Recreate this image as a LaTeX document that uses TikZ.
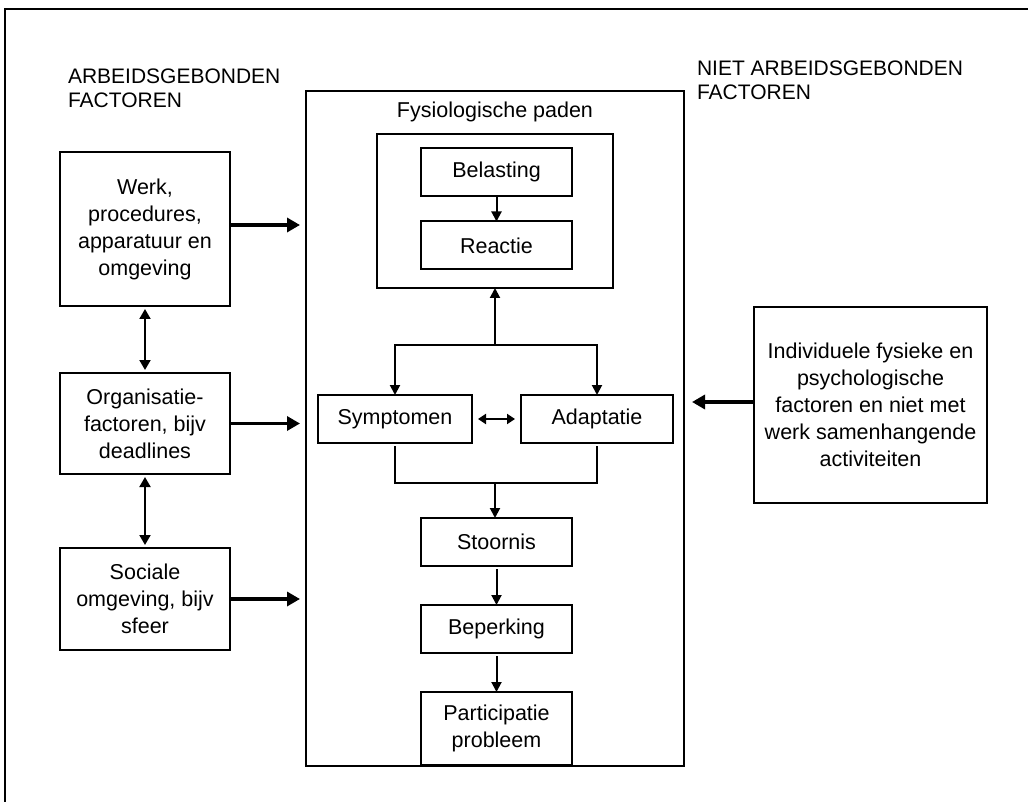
\documentclass[tikz,border=0pt]{standalone}
\usepackage{fontspec}
\setmainfont{Liberation Sans}
\usetikzlibrary{arrows.meta}

\begin{document}
\begin{tikzpicture}[x=1pt, y=-1pt, outer sep=0pt]

\tikzstyle{box}=[draw, line width=2pt, rectangle, inner sep=0pt, align=center, minimum width=151pt, minimum height=48pt, font=\fontsize{21.5}{27}\selectfont]
\tikzstyle{label}=[align=left, anchor=west, inner sep=0pt, font=\fontsize{21}{24}\selectfont]
\tikzstyle{thick arrow}=[line width=3.5pt, -{Triangle[length=13pt,width=14pt]}]
\tikzstyle{thin arrow}=[line width=2pt, -{Triangle[length=10pt,width=10pt]}]

\useasboundingbox (0,0) rectangle (1028,802);
\draw[line width=2pt] (5,802) -- (5,9) -- (1028,9);

% headings
\node[label] (arb) at (68,88) {ARBEIDSGEBONDEN\\FACTOREN};
\node[label] (niet) at (697,80) {NIET ARBEIDSGEBONDEN\\FACTOREN};

% centre column
\node[box, minimum width=378pt, minimum height=675pt] (paden) at (495,428.5) {};
\node[inner sep=0pt, font=\fontsize{21.5}{27}\selectfont] (title) at (495,112) {Fysiologische paden};
\node[box, minimum width=236pt, minimum height=154pt] (inner) at (495,211) {};
\node[box] (bel) at (496.5,172) {Belasting};
\node[box] (rea) at (496.5,245.5) {Reactie};
\node[box, minimum width=154pt] (sym) at (395,419) {Symptomen};
\node[box, minimum width=152pt] (ada) at (597,419) {Adaptatie};
\node[box] (sto) at (496.5,542) {Stoornis};
\node[box] (bep) at (496.5,629) {Beperking};
\node[box, minimum height=73pt] (par) at (496.5,728.5) {Participatie\\probleem};

\coordinate (split) at (495,345);
\coordinate (join) at (495,483);

% left column
\node[box, minimum width=170pt, minimum height=154pt] (werk) at (145,229) {Werk,\\procedures,\\apparatuur en\\omgeving};
\node[box, minimum width=170pt, minimum height=101pt] (org) at (145,423.5) {Organisatie-\\factoren, bijv\\deadlines};
\node[box, minimum width=170pt, minimum height=102pt] (soc) at (145,599) {Sociale\\omgeving, bijv\\sfeer};

% right column
\node[box, minimum width=233pt, minimum height=196pt] (indiv) at (870.5,405) {Individuele fysieke en\\psychologische\\factoren en niet met\\werk samenhangende\\activiteiten};

% connectors
\draw[thin arrow] (bel) -- (rea);
\draw[thin arrow] (split) -- (split |- inner.south);
\draw[thin arrow, {Triangle[length=10pt,width=10pt]}-{Triangle[length=10pt,width=10pt]}] (sym.north) |- (split) -| (ada.north);
\draw[thin arrow, {Triangle[length=8pt,width=10pt]}-{Triangle[length=8pt,width=10pt]}, shorten <=6pt, shorten >=6pt] (sym) -- (ada);
\draw[line width=2pt, shorten <=3pt] (sym.south) |- (join);
\draw[line width=2pt, shorten >=3pt] (join) -| (ada.south);
\draw[thin arrow] (join) -- (join |- sto.north);
\draw[thin arrow, shorten <=3pt] (sto) -- (bep);
\draw[thin arrow, shorten <=3pt] (bep) -- (par);

\draw[thin arrow, {Triangle[length=10pt,width=11pt]}-{Triangle[length=10pt,width=11pt]}, shorten <=3pt, shorten >=3pt] (werk) -- (org);
\draw[thin arrow, {Triangle[length=10pt,width=11pt]}-{Triangle[length=10pt,width=11pt]}, shorten <=3pt, shorten >=3pt] (org) -- (soc);

\draw[thick arrow, shorten >=6pt] (werk.east |- 0,225) -- (paden.west |- 0,225);
\draw[thick arrow, shorten >=6pt] (org) -- (org -| paden.west);
\draw[thick arrow, shorten >=6pt] (soc) -- (soc -| paden.west);
\draw[thick arrow, shorten >=8pt] (indiv.west |- 0,402) -- (paden.east |- 0,402);

\end{tikzpicture}
\end{document}
